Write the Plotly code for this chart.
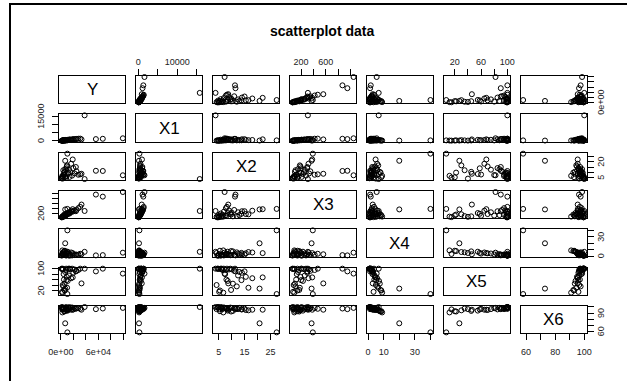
import plotly.graph_objects as go

names = ["Y", "X1", "X2", "X3", "X4", "X5", "X6"]

Y = [99000, 67000, 56000, 38000, 10500, 7000, 33000,
     2000, 3500, 1500, 5000, 8000, 12000, 4000, 6500, 15000, 20000, 18000,
     25000, 3000, 9500, 11000, 2500, 7000, 14000, 16500, 22000, 4500, 1800,
     10000, 28000, 13000, 5500, 31000, 8500, 19000, 6000, 3200, 24000, 9000]
X1 = [1600, 1300, 1100, 15800, 300, 200, 900,
      150, 250, 120, 400, 600, 700, 300, 200, 900, 1000, 800,
      1200, 180, 500, 650, 220, 350, 750, 550, 1100, 280, 100,
      450, 1350, 680, 330, 1400, 420, 950, 260, 160, 1050, 380]
X2 = [7.3, 11.3, 11.5, 3.8, 27.4, 20.8, 8.7,
      5.2, 6.0, 4.5, 8.0, 6.5, 9.5, 12.0, 5.5, 10.0, 14.0, 7.0,
      11.0, 4.2, 15.5, 8.5, 6.8, 13.0, 5.8, 18.0, 9.0, 7.5, 5.0,
      16.5, 7.8, 12.5, 9.8, 8.2, 4.8, 22.0, 10.5, 6.2, 15.0, 13.8]
X3 = [1050, 870, 950, 310, 390, 370, 560,
      70, 95, 60, 120, 160, 200, 110, 140, 250, 300, 280,
      350, 80, 190, 230, 90, 150, 210, 320, 330, 130, 65,
      180, 420, 260, 170, 470, 140, 380, 100, 85, 300, 200]
X4 = [5.5, 1.7, 1.3, 6.8, 40, 20, 3.0,
      3.5, 2.0, 1.0, 4.0, 2.5, 1.5, 6.0, 8.5, 2.0, 3.0, 1.2,
      2.2, 5.0, 4.5, 7.0, 9.0, 3.2, 0.8, 5.8, 1.8, 2.8, 1.5,
      6.5, 2.5, 4.2, 8.0, 3.8, 1.0, 4.8, 7.5, 2.2, 2.6, 5.2]
X5 = [82, 100, 90, 100, 7, 27, 46,
      15, 98, 100, 60, 95, 100, 35, 20, 98, 85, 100,
      92, 40, 70, 55, 12, 88, 100, 65, 97, 80, 99,
      30, 95, 75, 22, 100, 100, 68, 45, 100, 90, 58]
X6 = [98.5, 97.5, 96.4, 100, 58, 73, 95.5,
      96, 98, 99.5, 97, 96.5, 99, 97.5, 93, 98.5, 96, 99.2,
      97.8, 96.5, 95, 94, 91, 98.5, 99.8, 95.5, 97.5, 98, 99.6,
      94.5, 98.2, 96.5, 92.5, 97, 99.9, 95.5, 93.5, 99.4, 97.2, 96]

data = [Y, X1, X2, X3, X4, X5, X6]

tick_vals = [
    [0, 20000, 40000, 60000, 80000, 100000],
    [0, 5000, 10000, 15000],
    [5, 10, 15, 20, 25],
    [200, 400, 600, 800, 1000],
    [0, 10, 20, 30, 40],
    [20, 40, 60, 80, 100],
    [60, 70, 80, 90, 100],
]
# labels on the horizontal sides (bottom for odd columns, top for even)
x_labels = [
    ["0e+00", "", "", "6e+04", "", ""],
    ["0", "", "10000", ""],
    ["5", "", "15", "", "25"],
    ["200", "", "600", "", ""],
    ["0", "10", "", "30", ""],
    ["20", "", "60", "", "100"],
    ["60", "", "80", "", "100"],
]
# labels on the vertical sides (right for odd rows, left for even)
y_labels = [
    ["0e+00", "", "", "", "", ""],
    ["0", "", "", "15000"],
    ["5", "", "", "20", ""],
    ["200", "", "", "", ""],
    ["0", "", "", "30", ""],
    ["20", "", "", "", "100"],
    ["60", "", "", "90", ""],
]

W, H = 627, 381
n = len(names)


def rng(v):
    lo, hi = min(v), max(v)
    d = hi - lo
    return [lo - 0.04 * d, hi + 0.04 * d]


ranges = [rng(v) for v in data]

fig = go.Figure()
FONT = "Liberation Sans, Arial"
tickfont = dict(family=FONT, size=9, color="#222")
layout = {}
annotations = []

for r in range(n):
    for c in range(n):
        k = r * n + c + 1
        xa = "x" if k == 1 else f"x{k}"
        ya = "y" if k == 1 else f"y{k}"
        xkey = "xaxis" if k == 1 else f"xaxis{k}"
        ykey = "yaxis" if k == 1 else f"yaxis{k}"
        px0 = 59.3 + 76.9 * c
        px1 = px0 + 66
        py0 = 76 + 38.33 * r
        py1 = py0 + 27.4

        show_bottom = (r == n - 1 and c % 2 == 0)
        show_top = (r == 0 and c % 2 == 1)
        show_left = (c == 0 and r % 2 == 1)
        show_right = (c == n - 1 and r % 2 == 0)

        xshow = show_bottom or show_top
        yshow = show_left or show_right

        layout[xkey] = dict(
            domain=[px0 / W, px1 / W], range=ranges[c], anchor=ya,
            showline=True, mirror=True, linecolor="black", linewidth=1,
            showgrid=False, zeroline=False, automargin=False,
            tickvals=tick_vals[c], ticktext=x_labels[c],
            ticks="outside" if xshow else "", ticklen=6, tickcolor="black",
            showticklabels=xshow, side="top" if show_top else "bottom",
            tickfont=tickfont, ticklabelstandoff=0 if show_top else 4,
            fixedrange=True,
        )
        layout[ykey] = dict(
            domain=[1 - py1 / H, 1 - py0 / H], range=ranges[r], anchor=xa,
            showline=True, mirror=True, linecolor="black", linewidth=1,
            showgrid=False, zeroline=False, automargin=False,
            tickvals=tick_vals[r],
            ticks="outside" if yshow else "", ticklen=6, tickcolor="black",
            showticklabels=False, side="right" if show_right else "left",
            fixedrange=True,
        )
        if yshow:
            for tv, tt in zip(tick_vals[r], y_labels[r]):
                if tt:
                    if show_right:
                        ann = dict(x=594 / W, xanchor="left")
                    else:
                        ann = dict(x=48 / W, xanchor="right")
                    annotations.append(dict(
                        text=tt, xref="paper", yref=ya, y=tv,
                        textangle=-90, showarrow=False,
                        yanchor="middle", font=tickfont, **ann))

        if r == c:
            fig.add_trace(go.Scatter(x=[], y=[], xaxis=xa, yaxis=ya,
                                     mode="markers", showlegend=False,
                                     hoverinfo="skip"))
            annotations.append(dict(
                text=names[r], xref=f"{xa} domain", yref=f"{ya} domain",
                x=0.5, y=0.5, showarrow=False,
                font=dict(family=FONT, size=17, color="black")))
        else:
            fig.add_trace(go.Scatter(
                x=data[c], y=data[r], xaxis=xa, yaxis=ya, mode="markers",
                showlegend=False, hoverinfo="skip", cliponaxis=False,
                marker=dict(symbol="circle-open", size=5, color="black",
                            line=dict(width=1, color="black"))))

annotations.append(dict(
    text="<b>scatterplot data</b>", xref="paper", yref="paper",
    x=322 / W, y=1 - 31 / H, showarrow=False, xanchor="center",
    yanchor="middle",
    font=dict(family=FONT, size=14, color="black")))

fig.update_layout(
    **layout,
    width=W, height=H,
    margin=dict(l=0, r=0, t=0, b=0, autoexpand=False),
    paper_bgcolor="white", plot_bgcolor="white",
    annotations=annotations,
    shapes=[dict(type="rect", xref="paper", yref="paper",
                 x0=10 / W, x1=1.05, y0=-0.05, y1=1 - 4 / H,
                 line=dict(color="black", width=2))],
)

fig.write_html(
    "out.html",
    config={"displayModeBar": False, "staticPlot": True},
    post_script="document.body.style.margin='0';"
                "document.body.style.overflow='hidden';",
)
